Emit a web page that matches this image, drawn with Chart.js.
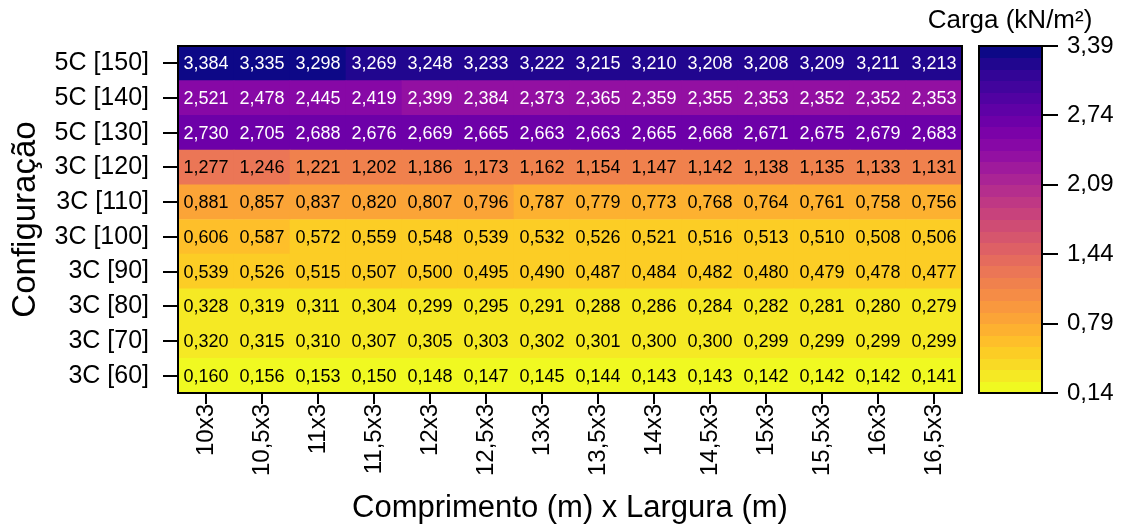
<!DOCTYPE html>
<html lang="pt">
<head>
<meta charset="utf-8">
<title>Carga por configuração</title>
<script src="https://cdn.jsdelivr.net/npm/chart.js@4.4.1/dist/chart.umd.min.js"></script>
<style>
  html, body { margin: 0; padding: 0; background: #ffffff; }
  #wrap { width: 1126px; height: 528px; }
</style>
</head>
<body>
<div id="wrap"><canvas id="heat" width="1126" height="528"></canvas></div>
<script>
// Column categories: length x width (m)
const colLabels = ['10x3', '10,5x3', '11x3', '11,5x3', '12x3', '12,5x3', '13x3',
                   '13,5x3', '14x3', '14,5x3', '15x3', '15,5x3', '16x3', '16,5x3'];

// Row categories, bottom to top
const rowLabels = ['3C [60]', '3C [70]', '3C [80]', '3C [90]', '3C [100]',
                   '3C [110]', '3C [120]', '5C [130]', '5C [140]', '5C [150]'];

// Load (kN/m²) per configuration, one value per column
const c60  = [0.160, 0.156, 0.153, 0.150, 0.148, 0.147, 0.145, 0.144, 0.143, 0.143, 0.142, 0.142, 0.142, 0.141];
const c70  = [0.320, 0.315, 0.310, 0.307, 0.305, 0.303, 0.302, 0.301, 0.300, 0.300, 0.299, 0.299, 0.299, 0.299];
const c80  = [0.328, 0.319, 0.311, 0.304, 0.299, 0.295, 0.291, 0.288, 0.286, 0.284, 0.282, 0.281, 0.280, 0.279];
const c90  = [0.539, 0.526, 0.515, 0.507, 0.500, 0.495, 0.490, 0.487, 0.484, 0.482, 0.480, 0.479, 0.478, 0.477];
const c100 = [0.606, 0.587, 0.572, 0.559, 0.548, 0.539, 0.532, 0.526, 0.521, 0.516, 0.513, 0.510, 0.508, 0.506];
const c110 = [0.881, 0.857, 0.837, 0.820, 0.807, 0.796, 0.787, 0.779, 0.773, 0.768, 0.764, 0.761, 0.758, 0.756];
const c120 = [1.277, 1.246, 1.221, 1.202, 1.186, 1.173, 1.162, 1.154, 1.147, 1.142, 1.138, 1.135, 1.133, 1.131];
const c130 = [2.730, 2.705, 2.688, 2.676, 2.669, 2.665, 2.663, 2.663, 2.665, 2.668, 2.671, 2.675, 2.679, 2.683];
const c140 = [2.521, 2.478, 2.445, 2.419, 2.399, 2.384, 2.373, 2.365, 2.359, 2.355, 2.353, 2.352, 2.352, 2.353];
const c150 = [3.384, 3.335, 3.298, 3.269, 3.248, 3.233, 3.222, 3.215, 3.210, 3.208, 3.208, 3.209, 3.211, 3.213];
const rows = [c60, c70, c80, c90, c100, c110, c120, c130, c140, c150];

// Colour bar range and ticks
const cbMin = 0.14;
const cbMax = 3.39;
const cbTicks = [0.14, 0.79, 1.44, 2.09, 2.74, 3.39];
const cbSteps = 30;

const FONT = "'Liberation Sans', Arial, Helvetica, sans-serif";

// Plasma colour map stops (t = 0 dark blue ... t = 1 yellow)
const plasma = ['#0d0887', '#2a0593', '#41049d', '#5601a4', '#6a00a8', '#7e03a8', '#8f0da4',
                '#a11b9b', '#b12a90', '#bf3984', '#cc4778', '#d6556d', '#e16462', '#ea7457',
                '#f2844b', '#f89540', '#fca636', '#feba2c', '#fcce25', '#f7e225', '#f0f921'];

function hexRgb(h) {
  return [parseInt(h.slice(1, 3), 16), parseInt(h.slice(3, 5), 16), parseInt(h.slice(5, 7), 16)];
}
function plasmaAt(t) {
  t = Math.min(1, Math.max(0, t));
  const p = t * (plasma.length - 1);
  const i = Math.min(plasma.length - 2, Math.floor(p));
  const f = p - i;
  const a = hexRgb(plasma[i]), b = hexRgb(plasma[i + 1]);
  const c = a.map((v, k) => Math.round(v + (b[k] - v) * f));
  return `rgb(${c[0]},${c[1]},${c[2]})`;
}
// Stepped palette: high loads dark, low loads yellow
const bandColors = Array.from({ length: cbSteps }, (_, k) => plasmaAt(1 - k / (cbSteps - 1)));
function colorFor(v) {
  let k = Math.floor((v - cbMin) / ((cbMax - cbMin) / cbSteps));
  k = Math.max(0, Math.min(cbSteps - 1, k));
  return bandColors[k];
}
const fmt = (v, d) => v.toFixed(d).replace('.', ',');

// One floating-bar dataset per row; each cell spans [row, row + 1]
const datasets = rows.map((vals, r) => ({
  label: rowLabels[r],
  data: vals.map(() => [r, r + 1]),
  values: vals,
  backgroundColor: vals.map(colorFor),
  borderWidth: 0,
  grouped: false,
  barPercentage: 1,
  categoryPercentage: 1,
  xAxisID: 'x',
  yAxisID: 'y'
}));

// Cell value labels
const cellLabels = {
  id: 'cellLabels',
  afterDatasetsDraw(chart) {
    const ctx = chart.ctx;
    ctx.save();
    ctx.font = `18px ${FONT}`;
    ctx.textAlign = 'center';
    ctx.textBaseline = 'middle';
    chart.data.datasets.forEach((ds, di) => {
      const meta = chart.getDatasetMeta(di);
      meta.data.forEach((el, i) => {
        const v = ds.values[i];
        ctx.fillStyle = v > 2 ? '#ffffff' : '#000000';
        ctx.fillText(fmt(v, 3), el.x, (el.y + el.base) / 2 + 1);
      });
    });
    ctx.restore();
  }
};

// Plot frame and colour bar
const frameAndBar = {
  id: 'frameAndBar',
  afterDraw(chart) {
    const ctx = chart.ctx;
    const a = chart.chartArea;
    ctx.save();
    ctx.strokeStyle = '#000';
    ctx.lineWidth = 2;
    ctx.strokeRect(a.left, a.top, a.right - a.left, a.bottom - a.top);

    const cb = chart.scales.cb;
    const right = cb.left;
    const left = right - 63;
    const step = (cbMax - cbMin) / cbSteps;
    for (let k = 0; k < cbSteps; k++) {
      const y0 = cb.getPixelForValue(cbMin + k * step);
      const y1 = cb.getPixelForValue(cbMin + (k + 1) * step);
      ctx.fillStyle = bandColors[k];
      ctx.fillRect(left, Math.floor(y1), right - left, Math.ceil(y0) - Math.floor(y1));
    }
    const top = cb.getPixelForValue(cbMax), bottom = cb.getPixelForValue(cbMin);
    ctx.strokeRect(left, top, right - left, bottom - top);

    ctx.fillStyle = '#000';
    ctx.font = `26px ${FONT}`;
    ctx.textAlign = 'center';
    ctx.textBaseline = 'middle';
    ctx.fillText('Carga (kN/m²)', 1010, 21);
    ctx.restore();
  }
};

new Chart(document.getElementById('heat'), {
  type: 'bar',
  data: { labels: colLabels, datasets },
  plugins: [cellLabels, frameAndBar],
  options: {
    responsive: false,
    animation: false,
    layout: { padding: { top: 46, left: 0, right: 0, bottom: 0 } },
    plugins: { legend: { display: false }, tooltip: { enabled: false }, title: { display: false } },
    scales: {
      x: {
        type: 'category',
        offset: true,
        grid: { display: true, offset: false, drawOnChartArea: false, drawTicks: true, tickLength: 11, color: '#000', lineWidth: 2 },
        border: { display: true, color: '#000', width: 2 },
        ticks: { color: '#000', font: { family: FONT, size: 24 }, minRotation: 90, maxRotation: 90, autoSkip: false, padding: 0 },
        title: { display: true, text: 'Comprimento (m) x Largura (m)', color: '#000', font: { family: FONT, size: 31 }, padding: { top: 0, bottom: 1 } },
        afterFit(s) { s.height = 135; }
      },
      y: {
        type: 'linear',
        position: 'left',
        min: 0,
        max: rowLabels.length,
        afterBuildTicks(s) { s.ticks = rowLabels.map((_, i) => ({ value: i + 0.5 })); },
        grid: { display: true, drawOnChartArea: false, drawTicks: true, tickLength: 15, color: '#000', lineWidth: 2 },
        border: { display: true, color: '#000', width: 2 },
        ticks: { color: '#000', font: { family: FONT, size: 25 }, padding: 14, autoSkip: false,
                 callback: (v) => rowLabels[Math.floor(v)] },
        title: { display: true, text: 'Configuração', color: '#000', font: { family: FONT, size: 33 }, padding: { top: 6, bottom: 0 } },
        afterFit(s) { s.width = 178; }
      },
      cbpad: {
        type: 'linear',
        position: 'right',
        weight: 1,
        min: 0,
        max: 1,
        ticks: { display: false },
        grid: { display: false },
        border: { display: false },
        afterFit(s) { s.width = 80; }
      },
      cb: {
        type: 'linear',
        position: 'right',
        weight: 2,
        min: cbMin,
        max: cbMax,
        afterBuildTicks(s) { s.ticks = cbTicks.map(v => ({ value: v })); },
        grid: { display: true, drawOnChartArea: false, drawTicks: true, tickLength: 16, color: '#000', lineWidth: 2 },
        border: { display: true, color: '#000', width: 2 },
        ticks: { color: '#000', font: { family: FONT, size: 24 }, padding: 9, callback: (v) => fmt(v, 2) },
        afterFit(s) { s.width = 84; }
      }
    }
  }
});
</script>
</body>
</html>
